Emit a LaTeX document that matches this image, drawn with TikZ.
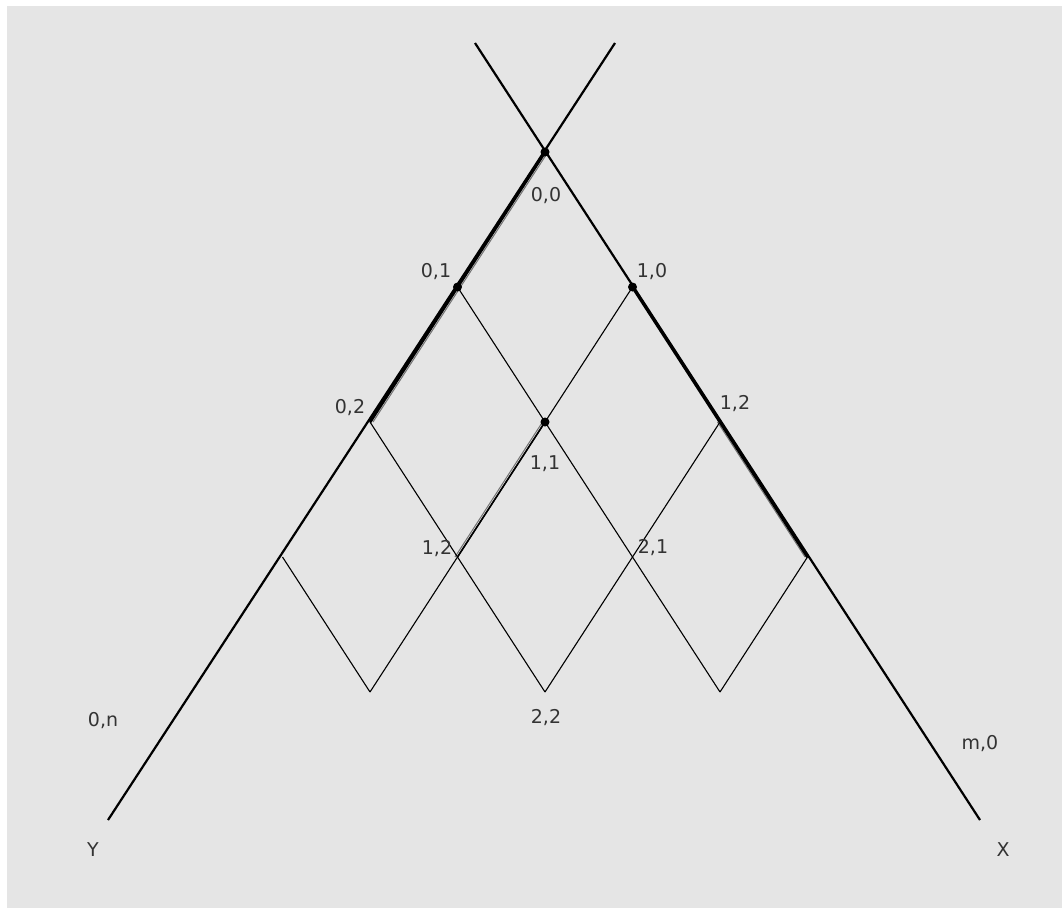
\documentclass[tikz,border=0pt]{standalone}
\usepackage{fontspec}
\setmainfont{DejaVu Sans}
\begin{document}
\begin{tikzpicture}[x=1pt,y=-1pt,
  axis/.style={line width=2.2pt,black},
  grid/.style={line width=1.1pt,black},
  trace/.style={line width=1pt,black!55},
  lbl/.style={text=black!80,font=\fontsize{19}{21}\selectfont,inner sep=0pt},
  dot/.style={circle,fill=black,inner sep=0pt,minimum size=9pt}]
\useasboundingbox (0,0) rectangle (1062,908);
\fill[white] (0,0) rectangle (1062,908);
\fill[black!10] (7,6) rectangle (1062,908);
% grid points
\coordinate (p00) at (545,152);
\coordinate (p01) at (457.5,287);
\coordinate (p10) at (632.5,287);
\coordinate (p02) at (370,422);
\coordinate (p11) at (545,422);
\coordinate (p20) at (720,422);
\coordinate (p03) at (282.5,557);
\coordinate (p12) at (457.5,557);
\coordinate (p21) at (632.5,557);
\coordinate (p30) at (807.5,557);
\coordinate (p13) at (370,692);
\coordinate (p22) at (545,692);
\coordinate (p31) at (720,692);
\coordinate (ytop) at (615,43);
\coordinate (ybot) at (108,820);
\coordinate (xtop) at (475,43);
\coordinate (xbot) at (980,820);
% highlighted path traces
\draw[trace] ([xshift=3pt]p00) -- ([xshift=3pt]p01) -- ([xshift=3pt]p02);
\draw[trace] ([xshift=-2.5pt]p11) -- ([xshift=-2.5pt]p12);
\draw[trace] ([xshift=-2.5pt]p20) -- ([xshift=-2.5pt]p30);
% thin grid
\draw[grid] (p01) -- (p11) -- (p21) -- (p31);
\draw[grid] (p02) -- (p12) -- (p22);
\draw[grid] (p03) -- (p13);
\draw[grid] (p10) -- (p11) -- (p12) -- (p13);
\draw[grid] (p20) -- (p21) -- (p22);
\draw[grid] (p30) -- (p31);
\draw[line width=1.6pt] (p11) -- (p12);
% axes
\draw[axis] (ytop) -- (ybot);
\draw[axis] (xtop) -- (xbot);
\draw[line width=3pt] (p00) -- (p01) -- (p02);
\draw[line width=3pt] (p10) -- (p20) -- (p30);
% dots
\node[dot] (d00) at (p00) {};
\node[dot] (d01) at (p01) {};
\node[dot] (d10) at (p10) {};
\node[dot] (d11) at (p11) {};
% labels
\node[lbl] (l00) at (546,196) {0,0};
\node[lbl] (l01) at (436,272) {0,1};
\node[lbl] (l10) at (652,272) {1,0};
\node[lbl] (l02) at (350,408) {0,2};
\node[lbl] (l11) at (545,464) {1,1};
\node[lbl] (l20) at (735,404) {1,2};
\node[lbl] (l12) at (437,549) {1,2};
\node[lbl] (l21) at (653,548) {2,1};
\node[lbl] (l22) at (546,718) {2,2};
\node[lbl] (l0n) at (103,721) {0,n};
\node[lbl] (lm0) at (980,744) {m,0};
\node[lbl] (ly) at (93,850) {Y};
\node[lbl] (lx) at (1003,850) {X};
\end{tikzpicture}
\end{document}
